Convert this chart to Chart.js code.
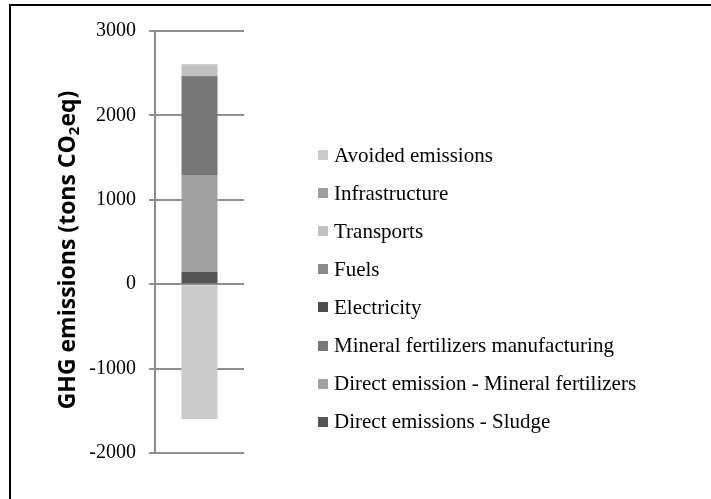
<!DOCTYPE html>
<html lang="en">

<head>
    <meta charset="UTF-8" />
    <title>GHG emissions</title>
    <script src="https://cdn.jsdelivr.net/npm/chart.js"></script>
    <style>
        body {
            margin: 0;
            background: #ffffff;
        }

        .wrap {
            position: relative;
            width: 711px;
            height: 499px;
            overflow: hidden;
            background: #ffffff;
        }

        .frame {
            position: absolute;
            left: 9px;
            top: 4px;
            width: 720px;
            height: 520px;
            border-top: 2px solid #000;
            border-left: 2px solid #000;
            pointer-events: none;
        }

        #legend {
            position: absolute;
            left: 318px;
            top: 136px;
            font-family: 'Liberation Serif', 'Times New Roman', serif;
            font-size: 21px;
            color: #000;
        }

        #legend div {
            height: 38.1px;
            display: flex;
            align-items: center;
            white-space: nowrap;
        }

        #legend span.box {
            display: inline-block;
            width: 10px;
            height: 10px;
            margin-right: 6px;
        }
    </style>
</head>

<body>
    <div class="wrap">
        <canvas id="ghgChart" width="711" height="499"></canvas>
        <div id="legend"></div>
        <div class="frame"></div>
    </div>

    <script>
        // data, stacked bottom to top
        const categories = [''];
        const seriesNames = ['Direct emissions - Sludge', 'Direct emission - Mineral fertilizers',
            'Mineral fertilizers manufacturing', 'Electricity', 'Fuels', 'Transports',
            'Infrastructure', 'Avoided emissions'];
        const sludge = [148];
        const directMineral = [1145];
        const mineralManuf = [1162];
        const electricity = [6];
        const fuels = [8];
        const transports = [125];
        const infrastructure = [8];
        const avoided = [-1598];
        const yTicks = [-2000, -1000, 0, 1000, 2000, 3000];

        const seriesValues = [sludge, directMineral, mineralManuf, electricity, fuels, transports, infrastructure, avoided];
        const colors = ['#555555', '#a2a2a2', '#777777', '#4d4d4d', '#8a8a8a', '#c0c0c0', '#a0a0a0', '#cbcbcb'];

        const datasets = seriesNames.map((name, i) => ({
            label: name,
            data: seriesValues[i],
            backgroundColor: colors[i],
            borderWidth: 0,
            categoryPercentage: 1,
            barPercentage: 0.405
        }));

        // y axis title with subscript
        const titlePlugin = {
            id: 'ytitle',
            afterDraw(chart) {
                const ctx = chart.ctx;
                const cy = (chart.chartArea.top + chart.chartArea.bottom) / 2 + 8;
                ctx.save();
                ctx.translate(75, cy);
                ctx.rotate(-Math.PI / 2);
                ctx.fillStyle = '#000';
                ctx.textBaseline = 'alphabetic';
                const big = 'bold 23px "Open Sans", sans-serif';
                const small = 'bold 15px "Open Sans", sans-serif';
                const parts = [['GHG emissions (tons CO', big, 0], ['2', small, 4], ['eq)', big, 0]];
                let total = 0;
                parts.forEach(p => { ctx.font = p[1]; total += ctx.measureText(p[0]).width; });
                let x = -total / 2;
                parts.forEach(p => {
                    ctx.font = p[1];
                    ctx.fillText(p[0], x, p[2]);
                    x += ctx.measureText(p[0]).width;
                });
                ctx.restore();
            }
        };

        const chart = new Chart(document.getElementById('ghgChart'), {
            type: 'bar',
            data: { labels: categories, datasets: datasets },
            options: {
                responsive: false,
                animation: false,
                layout: { padding: { left: 0, right: 467, top: 31, bottom: 46 } },
                plugins: { legend: { display: false }, tooltip: { enabled: false } },
                scales: {
                    x: { stacked: true, display: false },
                    y: {
                        stacked: true,
                        min: -2000,
                        max: 3000,
                        afterFit(s) { s.width = 155; },
                        afterBuildTicks(s) { s.ticks = yTicks.map(v => ({ value: v })); },
                        grid: { color: '#8e8e8e', lineWidth: 2, tickLength: 6 },
                        border: { color: '#8c8c8c', width: 2 },
                        ticks: {
                            padding: 13,
                            color: '#000',
                            callback: v => String(v),
                            font: { family: "'Liberation Serif', 'Times New Roman', serif", size: 20 }
                        }
                    }
                }
            },
            plugins: [titlePlugin]
        });

        // legend, reversed like the original
        const legend = document.getElementById('legend');
        datasets.slice().reverse().forEach(ds => {
            const row = document.createElement('div');
            row.innerHTML = '<span class="box" style="background:' + ds.backgroundColor + '"></span>' + ds.label;
            legend.appendChild(row);
        });
    </script>

</body>

</html>
